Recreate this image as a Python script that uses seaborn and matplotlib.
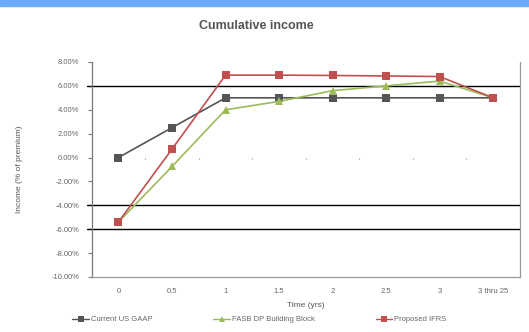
import matplotlib
matplotlib.use("Agg")
import matplotlib.pyplot as plt
import matplotlib.patches as mpatches
import seaborn as sns
import pandas as pd

# Time buckets (years) and cumulative income as % of premium
periods = ["0", "0.5", "1", "1.5", "2", "2.5", "3", "3 thru 25"]
us_gaap = [0.0, 2.5, 5.0, 5.0, 5.0, 5.0, 5.0, 5.0]
fasb_dp = [-5.4, -0.75, 4.0, 4.7, 5.6, 6.0, 6.4, 5.0]
ifrs = [-5.4, 0.7, 6.9, 6.9, 6.87, 6.83, 6.78, 5.0]
series_names = ["Current US GAAP", "FASB DP Building Block", "Proposed IFRS"]
y_ticks = [8, 6, 4, 2, 0, -2, -4, -6, -8, -10]

rows = []
for name, vals in zip(series_names, [us_gaap, fasb_dp, ifrs]):
    for i, (p, v) in enumerate(zip(periods, vals)):
        rows.append({"period": i, "label": p, "series": name, "income": v})
df = pd.DataFrame(rows)

sns.set_style("white")
plt.rcParams["font.family"] = ["Liberation Sans", "DejaVu Sans"]

fig = plt.figure(figsize=(5.29, 3.32), dpi=100)
ax = fig.add_axes([0.1733, 0.1657, 0.8097, 0.6476])

# Banner strip across the top
fig.patches.append(mpatches.Rectangle((0, 1 - 6 / 332), 1, 6 / 332,
                                      transform=fig.transFigure,
                                      color="#6aa9fb", zorder=0))

palette = {"Current US GAAP": "#555555",
           "FASB DP Building Block": "#9bbb59",
           "Proposed IFRS": "#c0504d"}
markers = {"Current US GAAP": "s",
           "FASB DP Building Block": "^",
           "Proposed IFRS": "s"}

sns.lineplot(data=df, x="period", y="income", hue="series", style="series",
             palette=palette, markers=markers, dashes=False, markersize=5.5,
             linewidth=1.2, markeredgewidth=0, ax=ax, legend=False, zorder=3)

ax.set_xlim(-0.5, len(periods) - 0.5)
ax.set_ylim(-10, 8)

# Selected horizontal reference lines
for yv in [6, -4, -6]:
    ax.axhline(yv, color="black", linewidth=1.0, zorder=2, xmin=-0.012, clip_on=False)

# Category axis crossing at zero with small boundary ticks
for i in range(1, len(periods) + 1):
    ax.plot([i - 0.5, i - 0.5], [0, -0.12], color="#bbbbbb", linewidth=0.8, zorder=1)

ax.set_xticks(range(len(periods)))
ax.set_xticklabels(periods)
ax.set_yticks(y_ticks)
ax.set_yticklabels([f"{v:.2f}%" for v in y_ticks])
ax.tick_params(axis="x", length=0, labelsize=5.5, labelcolor="#666666", pad=8)
ax.tick_params(axis="y", length=3, width=0.8, color="#777777", labelsize=5.5,
               labelcolor="#666666", pad=6, left=True)

for side in ["left", "right", "bottom"]:
    ax.spines[side].set_color("#999999")
    ax.spines[side].set_linewidth(0.9)
ax.spines["left"].set_color("#777777")
ax.spines["top"].set_visible(False)

ax.set_xlabel("Time (yrs)", fontsize=6, color="#555555", labelpad=5)
ax.set_ylabel("Income (% of premium)", fontsize=6, color="#555555", labelpad=20)
fig.text(0.485, 0.922, "Cumulative income", ha="center", va="center",
         fontsize=9, fontweight="bold", color="#555555")

handles = [plt.Line2D([], [], color=palette[n], marker=markers[n], markersize=4,
                      markeredgewidth=0, linewidth=1.0) for n in series_names]
fig.legend(handles, series_names, loc="center", bbox_to_anchor=(0.49, 0.037),
           ncol=3, frameon=False, fontsize=5.5, handlelength=2.2,
           handletextpad=0.2, columnspacing=8, labelcolor="#666666")

fig.savefig("out.png", dpi=100)
